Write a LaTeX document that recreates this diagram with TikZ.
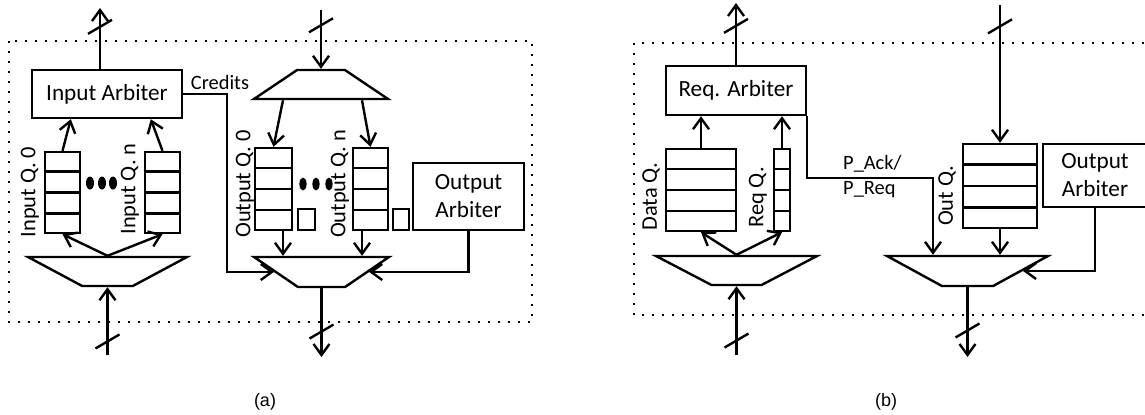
\documentclass[tikz,border=0pt]{standalone}
\usepackage{fontspec}
\setmainfont{Carlito}
\newfontfamily\capfont{Liberation Sans}
\usetikzlibrary{arrows.meta,shapes.geometric,calc,decorations.markings}

\begin{document}
\begin{tikzpicture}[x=0.5pt,y=-0.5pt,line width=1.2pt,
    blk/.style={draw, rectangle, inner sep=0pt, align=center, font=\fontsize{11.6}{14}\selectfont},
    queue/.style={draw, rectangle, inner sep=0pt, minimum height=41pt},
    qlabel/.style={rotate=90, inner sep=0pt, font=\fontsize{11.2}{13.5}\selectfont},
    sig/.style={inner sep=0pt, align=left, font=\fontsize{10.2}{12.5}\selectfont},
    mux/.style={draw, trapezium, trapezium stretches=true, inner sep=1pt, minimum height=14.5pt},
    slot/.style={draw, rectangle, inner sep=0pt, minimum width=8.5pt, minimum height=10.5pt},
    arr/.style={-{Straight Barb[length=5.5pt,width=8pt]}},
    dotmark/.style={ellipse, fill, inner sep=0pt, minimum width=4pt, minimum height=6.5pt},
    bus/.style={postaction={decorate,decoration={markings,
        mark=at position #1 with {\pgftransformresetnontranslations \draw[-] (-12,7) -- (12,-7);}}}},
    dotbox/.style={dash pattern=on 1pt off 4pt}]
    \useasboundingbox (0,0) rectangle (1145,414);

    % (a)
    \draw[dotbox] (9,41) rectangle (532,322);
    % Input side
    \node[blk, minimum width=75pt, minimum height=24pt] (inArb) at (107,94) {Input Arbiter};
    \node[queue, minimum width=17.5pt, minimum height=40.5pt] (qi0) at (62.5,192.5) {};
    \node[queue, minimum width=17.5pt, minimum height=40.5pt] (qin) at (162.5,192.5) {};
    \node[qlabel] (lqi0) at (30,192) {Input Q. 0};
    \node[qlabel] (lqin) at (130,189) {Input Q. n};
    \foreach \x [count=\i] in {90,102,113}
        \node[dotmark] (dA\i) at (\x,183) {};
    \node[mux, shape border rotate=180, trapezium angle=43, minimum width=79.5pt] (dmA) at (107.5,271.5) {};
    % Output side
    \node[mux, trapezium angle=48, minimum width=67pt] (dmTop) at (321,84.5) {};
    \node[queue, minimum width=18.5pt] (qo0) at (273.5,189) {};
    \node[queue, minimum width=17.5pt] (qon) at (370.5,189) {};
    \node[qlabel] (lqo0) at (245,184) {Output Q. 0};
    \node[qlabel] (lqon) at (340,184) {Output Q. n};
    \foreach \x [count=\i] in {303,316,329}
        \node[dotmark, minimum width=3.6pt] (dO\i) at (\x,184) {};
    \node[slot] (sq0) at (306.5,219.5) {};
    \node[slot, minimum width=8pt] (sqn) at (401,219.5) {};
    \node[blk, minimum width=55.5pt, minimum height=33.5pt] (outArbA) at (468.5,196.5) {Output\\Arbiter};
    \node[mux, shape border rotate=180, trapezium angle=47, minimum width=67.5pt, minimum height=15pt] (muxA) at (321.5,272) {};
    \node[sig] (cred) at (220,82) {Credits};

    % (b)
    \draw[dotbox] (634,43) rectangle (1152,315);
    \node[blk, minimum width=70pt, minimum height=24.5pt] (reqArb) at (736,90.5) {Req. Arbiter};
    \node[queue, minimum width=35pt] (dataQ) at (701,190) {};
    \node[queue, minimum width=8pt] (reqQ) at (782,190) {};
    \node[qlabel] (ldata) at (651,196.5) {Data Q.};
    \node[qlabel] (lreq) at (758,197.5) {Req Q.};
    \node[mux, shape border rotate=180, trapezium angle=42, minimum width=80.5pt] (dmB) at (736.5,270.5) {};
    \node[queue, minimum width=37pt, minimum height=42pt] (outQ) at (1000,186) {};
    \node[qlabel] (lout) at (947,196) {Out Q.};
    \node[blk, minimum width=52pt, minimum height=31.5pt] (outArbB) at (1095,175.5) {Output\\Arbiter};
    \node[mux, shape border rotate=180, trapezium angle=43, minimum width=80.5pt, minimum height=15pt] (muxB) at (967.5,271) {};
    \node[sig, anchor=west] (ack) at (842,177) {P\_Ack/\\P\_Req};

    % queue slots
    \foreach \q in {qi0,qin,qo0,qon,dataQ,reqQ,outQ}
        \foreach \k in {1,2,3}
            \draw ($(\q.north west)!\k/4!(\q.south west)$) -- ($(\q.north east)!\k/4!(\q.south east)$);

    % ports
    \coordinate (topA) at (100,8);
    \coordinate (inTopA) at (321,10);
    \coordinate (inBotA) at (107.5,355);
    \coordinate (outBotA) at (321.5,357);
    \coordinate (topB) at (736,3);
    \coordinate (inTopB) at (1000,5);
    \coordinate (inBotB) at (736.5,355);
    \coordinate (outBotB) at (967.5,357);
    \coordinate (crTurn) at (227,200);
    \coordinate (ackTurn) at (933,178);
    \coordinate (mA1) at ($(muxA.north)+(-38.5,0)$);
    \coordinate (mA2) at ($(muxA.north)+(40.5,0)$);

    % connections (a)
    \draw[arr, bus=0.69] (inArb.north -| topA) -- (topA);
    \draw[arr, bus=0.26] (inTopA) -- (dmTop.north);
    \draw[arr, bus=0.2] (inBotA) -- (dmA.south);
    \draw[arr, bus=0.63] (muxA.south) -- (outBotA);
    \draw[arr] (dmA.north) -- (qi0.south);
    \draw[arr] (dmA.north) -- (qin.south);
    \draw[arr] (qi0.north) -- ($(inArb.south west)+(40,0)$);
    \draw[arr] (qin.north) -- ($(inArb.south west)+(120,0)$);
    \draw[arr] ($(dmTop.south)+(-38,0)$) -- (qo0.north);
    \draw[arr] ($(dmTop.south)+(41,0)$) -- (qon.north);
    \draw[arr] (qo0.south -| mA1) -- (mA1);
    \draw[arr] (qon.south -| mA2) -- (mA2);
    \draw[arr] (inArb.east) -| (crTurn) |- (muxA.west);
    \draw[arr] (outArbA.south) |- (muxA.east);

    % connections (b)
    \draw[arr, bus=0.63] (reqArb.north) -- (topB);
    \draw[arr, bus=0.155] (inTopB) -- (outQ.north);
    \draw[arr, bus=0.21] (inBotB) -- (dmB.south);
    \draw[arr, bus=0.62] (muxB.south) -- (outBotB);
    \draw[arr] (dmB.north) -- (dataQ.south);
    \draw[arr] (dmB.north) -- (reqQ.south);
    \draw[arr] (dataQ.north) -- (dataQ.north |- reqArb.south);
    \draw[arr] (reqQ.north) -- (reqQ.north |- reqArb.south);
    \draw[arr] (outQ.south) -- (outQ.south |- muxB.north);
    \draw[arr] (reqArb.south east) |- (ackTurn) -- (ackTurn |- muxB.north);
    \draw[arr] (outArbB.south) |- (muxB.east);

    % captions
    \node[font=\fontsize{9}{11}\capfont] (capA) at (265,402) {(a)};
    \node[font=\fontsize{9}{11}\capfont] (capB) at (886,402) {(b)};
\end{tikzpicture}
\end{document}
